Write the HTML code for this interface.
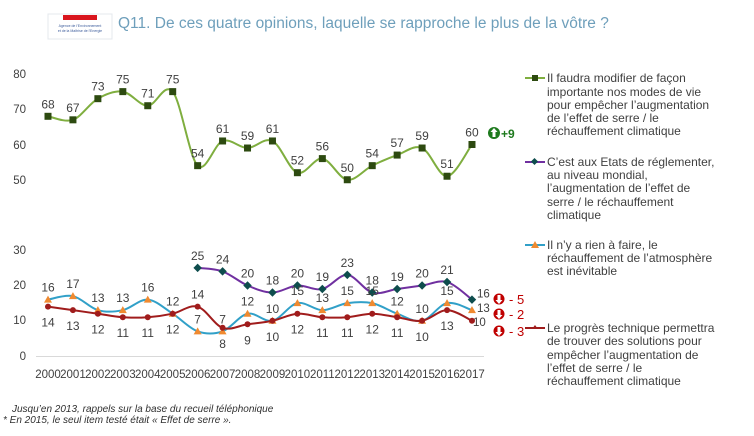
<!DOCTYPE html>
<html><head><meta charset="utf-8"><style>
body{margin:0;background:#fff;}
svg{display:block;font-family:"Liberation Sans","DejaVu Sans",sans-serif;}
</style></head><body>
<svg id="s" width="754" height="436" viewBox="0 0 754 436" xmlns="http://www.w3.org/2000/svg">
<rect x="48" y="14" width="64" height="25" fill="#fff" stroke="#e4e8ee"/>
<rect x="63" y="15" width="34" height="5" fill="#d9151d"/>
<text x="80" y="27" font-size="3.5" fill="#3a5a9a" text-anchor="middle">Agence de l'Environnement</text>
<text x="80" y="32" font-size="3.5" fill="#3a5a9a" text-anchor="middle">et de la Maîtrise de l'Energie</text>
<text x="118" y="28" font-size="15.5" fill="#6e9fbb">Q11. De ces quatre opinions, laquelle se rapproche le plus de la vôtre ?</text>
<g font-size="11.5" fill="#404040" text-anchor="end">
<text x="26" y="78">80</text><text x="26" y="113">70</text><text x="26" y="149">60</text><text x="26" y="184">50</text>
<text x="26" y="254">30</text><text x="26" y="289">20</text><text x="26" y="324">10</text><text x="26" y="360">0</text>
</g>
<line x1="36" y1="356.5" x2="484" y2="356.5" stroke="#d9d9d9"/>
<g id="g"></g>
<g font-size="12" fill="#404040">
<text x="547" y="82">Il faudra modifier de façon</text>
<text x="547" y="96">importante nos modes de vie</text>
<text x="547" y="109">pour empêcher l’augmentation</text>
<text x="547" y="122">de l’effet de serre / le</text>
<text x="547" y="135">réchauffement climatique</text>
<text x="547" y="166">C’est aux Etats de réglementer,</text>
<text x="547" y="179">au niveau mondial,</text>
<text x="547" y="192">l’augmentation de l’effet de</text>
<text x="547" y="206">serre / le réchauffement</text>
<text x="547" y="219">climatique</text>
<text x="547" y="249">Il n’y a rien à faire, le</text>
<text x="547" y="262">réchauffement de l’atmosphère</text>
<text x="547" y="275">est inévitable</text>
<text x="547" y="332">Le progrès technique permettra</text>
<text x="547" y="345">de trouver des solutions pour</text>
<text x="547" y="359">empêcher l’augmentation de</text>
<text x="547" y="372">l’effet de serre / le</text>
<text x="547" y="385">réchauffement climatique</text>
</g>
<line x1="525" y1="78" x2="545" y2="78" stroke="#7fae3f" stroke-width="2"/><rect x="532" y="75" width="6" height="6" fill="#2d4a10"/>
<line x1="525" y1="162" x2="545" y2="162" stroke="#7030a0" stroke-width="2"/><rect x="532" y="159" width="5" height="5" fill="#0e4d4d" transform="rotate(45 534.5 161.5)"/>
<line x1="525" y1="245" x2="545" y2="245" stroke="#31a0c8" stroke-width="2"/><polygon points="535,241 539,248 531,248" fill="#f08a30"/>
<line x1="525" y1="328" x2="545" y2="328" stroke="#a01c1c" stroke-width="2"/><polygon points="535,325 538,329 532,329" fill="#a01c1c"/>
<g font-size="13" font-weight="bold">
<circle cx="494" cy="133" r="6" fill="#1e7a1e"/><path d="M494 128 l-3.5 4 h2 v5 h3 v-5 h2z" fill="#fff"/>
<text x="501" y="138" fill="#1e7a1e" font-size="12">+9</text>
<g fill="#c00000">
<circle cx="499" cy="299" r="5.5"/><path d="M499 304 l-3.5 -4 h2 v-5 h3 v5 h2z" fill="#fff"/><text x="509" y="304" font-weight="normal">- 5</text>
<circle cx="499" cy="314" r="5.5"/><path d="M499 319 l-3.5 -4 h2 v-5 h3 v5 h2z" fill="#fff"/><text x="509" y="319" font-weight="normal">- 2</text>
<circle cx="499" cy="331" r="5.5"/><path d="M499 336 l-3.5 -4 h2 v-5 h3 v5 h2z" fill="#fff"/><text x="509" y="336" font-weight="normal">- 3</text>
</g></g>
<g font-size="10" font-style="italic" fill="#303030">
<text x="12" y="412">Jusqu’en 2013, rappels sur la base du recueil téléphonique</text>
<text x="3" y="423">* En 2015, le seul item testé était « Effet de serre ».</text>
</g>
</svg>
<script>
const X=i=>48+i*24.94, Y=v=>356-v*3.525;
const g=document.getElementById('g');let h='';
for(let i=0;i<18;i++)h+=`<text x="${X(i)}" y="378" font-size="11.5" fill="#404040" text-anchor="middle">${2000+i}</text>`;
function path(pts){let d=`M${pts[0][0]},${pts[0][1]}`;for(let i=0;i<pts.length-1;i++){const p0=pts[i-1]||pts[i],p1=pts[i],p2=pts[i+1],p3=pts[i+2]||p2;const t=6;d+=` C${p1[0]+(p2[0]-p0[0])/t},${p1[1]+(p2[1]-p0[1])/t} ${p2[0]-(p3[0]-p1[0])/t},${p2[1]-(p3[1]-p1[1])/t} ${p2[0]},${p2[1]}`;}return d;}
const S=[
{d:[68,67,73,75,71,75,54,61,59,61,52,56,50,54,57,59,51,60],s:0,c:'#7fae3f',m:'sq',mc:'#2d4a10',lab:'a'},
{d:[25,24,20,18,20,19,23,18,19,20,21,16],s:6,c:'#7030a0',m:'di',mc:'#0e4d4d',lab:'a'},
{d:[16,17,13,13,16,12,7,7,12,10,15,13,15,15,12,10,15,13],s:0,c:'#31a0c8',m:'tr',mc:'#f08a30',lab:'a'},
{d:[14,13,12,11,11,12,14,8,9,10,12,11,11,12,11,10,13,10],s:0,c:'#a01c1c',m:'ci',mc:'#a01c1c',lab:'b',ab:[6]}];
S.forEach(s=>{const pts=s.d.map((v,i)=>[X(i+s.s),Y(v)]);h+=`<path d="${path(pts)}" fill="none" stroke="${s.c}" stroke-width="2"/>`;
pts.forEach((p,i)=>{const [x,y]=p;
if(s.m=='sq')h+=`<rect x="${x-3.5}" y="${y-3.5}" width="7" height="7" fill="${s.mc}"/>`;
if(s.m=='di')h+=`<rect x="${x-3}" y="${y-3}" width="6" height="6" fill="${s.mc}" transform="rotate(45 ${x} ${y})"/>`;
if(s.m=='tr')h+=`<polygon points="${x},${y-4} ${x+4},${y+3} ${x-4},${y+3}" fill="${s.mc}"/>`;
if(s.m=='ci')h+=`<circle cx="${x}" cy="${y}" r="3" fill="${s.mc}"/>`;
const last=i==pts.length-1&&s.m!='sq';
let lx=x,ly,anc='middle',fs=12;
if(last){lx=x+5;ly=y-2;anc='start';fs=11.5;if(s.m=='tr'){ly=y+2;}if(s.m=='ci'){lx=x+1;ly=y+5;}}
else if(s.lab=='a'||(s.ab&&s.ab.includes(i)))ly=y-8;else ly=y+20;
h+=`<text x="${lx}" y="${ly}" font-size="${fs}" fill="#404040" text-anchor="${anc}">${s.d[i]}</text>`;});});
g.innerHTML=h;
</script>
</body></html>
